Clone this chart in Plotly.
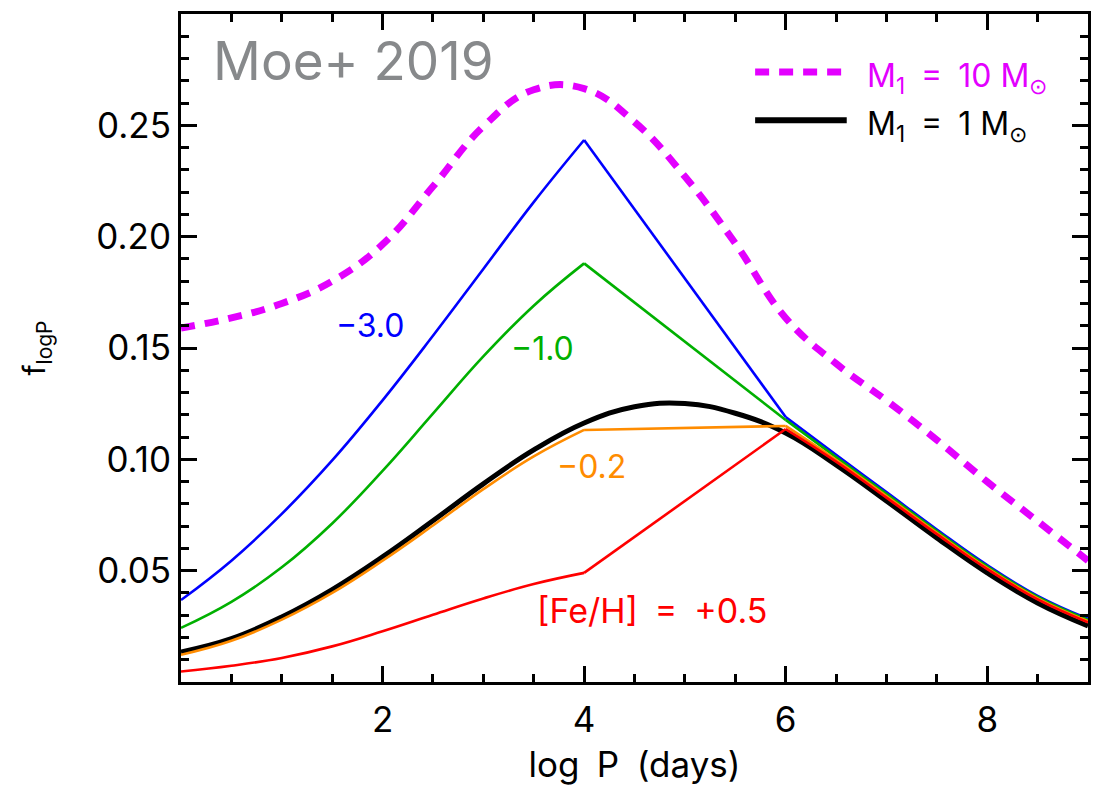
import plotly.graph_objects as go

# log P grid (days) shared by every curve
log_p = [0.0, 0.5, 1.0, 1.5, 2.0, 2.5, 3.0, 3.5, 4.0, 4.5, 5.0, 5.5, 6.0, 6.5, 7.0, 7.5, 8.0, 8.5, 9.0]

# M1 = 10 Msun
f_m10 = [0.159, 0.1635, 0.1700, 0.1800, 0.1965, 0.2225, 0.2495, 0.2660, 0.2665, 0.2515,
         0.2270, 0.1970, 0.1635, 0.1430, 0.1264, 0.1087, 0.0899, 0.0722, 0.0545]

# M1 = 1 Msun, solar metallicity
f_m1 = [0.0135, 0.0195, 0.0292, 0.0415, 0.0562, 0.0724, 0.0890, 0.1042, 0.1163, 0.1236,
        0.1251, 0.1207, 0.1118, 0.0975, 0.0813, 0.0647, 0.0490, 0.0355, 0.0252]

# M1 = 1 Msun at different [Fe/H]
f_feh_m30 = [0.0368, 0.0545, 0.0755, 0.0995, 0.1265, 0.1555, 0.1855, 0.2155, 0.2434, 0.2123,
             0.1812, 0.1501, 0.1190, 0.1020, 0.0853, 0.0685, 0.0525, 0.0387, 0.0284]
f_feh_m10 = [0.0243, 0.0360, 0.0515, 0.0712, 0.0948, 0.1205, 0.1462, 0.1690, 0.1880, 0.1704,
             0.1529, 0.1353, 0.1177, 0.1010, 0.0845, 0.0678, 0.0519, 0.0382, 0.0279]
f_feh_m02 = [0.0122, 0.0185, 0.0280, 0.0400, 0.0545, 0.0703, 0.0866, 0.1013, 0.1132, 0.1137,
             0.1141, 0.1146, 0.1150, 0.0998, 0.0835, 0.0670, 0.0512, 0.0376, 0.0273]
f_feh_p05 = [0.0047, 0.0073, 0.0108, 0.0160, 0.0228, 0.0302, 0.0375, 0.0440, 0.0490, 0.0652,
             0.0813, 0.0975, 0.1136, 0.0990, 0.0828, 0.0664, 0.0507, 0.0371, 0.0268]

feh_labels = ["\u22123.0", "\u22121.0", "\u22120.2", "[Fe/H]\u2002=\u2002+0.5"]
feh_series = [f_feh_m30, f_feh_m10, f_feh_m02, f_feh_p05]
feh_colors = ["#0000ff", "#00b000", "#ff8c00", "#ff0000"]

x_ticks = [2, 4, 6, 8]
y_ticks = [0.05, 0.10, 0.15, 0.20, 0.25]
y_ticktext = ["0.05", "0.10", "0.15", "0.20", "0.25"]

FONT = "Inter"
SMOOTH = 1.2

fig = go.Figure()

fig.add_trace(go.Scatter(x=log_p, y=f_m1, mode="lines",
                         line=dict(color="black", width=5, shape="spline", smoothing=SMOOTH),
                         hoverinfo="skip"))

# each metallicity curve: smooth below log P = 4, straight 4-6, smooth tail beyond 6
i4 = log_p.index(4.0)
i6 = log_p.index(6.0)
for ys, col in zip(feh_series, feh_colors):
    for a, b, shp in [(0, i4 + 1, "spline"), (i4, i6 + 1, "linear"), (i6, len(log_p), "spline")]:
        fig.add_trace(go.Scatter(x=log_p[a:b], y=ys[a:b], mode="lines",
                                 line=dict(color=col, width=2.6, shape=shp, smoothing=SMOOTH),
                                 hoverinfo="skip"))

fig.add_trace(go.Scatter(x=log_p, y=f_m10, mode="lines",
                         line=dict(color="#e300ff", width=7, dash="14px,10px",
                                   shape="spline", smoothing=SMOOTH),
                         hoverinfo="skip"))

axis_common = dict(
    ticks="inside", ticklen=16, tickwidth=2.5, tickcolor="black",
    showline=True, linewidth=3, linecolor="black", mirror="allticks",
    showgrid=False, zeroline=False,
    tickfont=dict(family=FONT, size=35, color="black"),
)

fig.update_xaxes(range=[0, 9], tickvals=x_ticks, ticklabelstandoff=5,
                 minor=dict(dtick=0.5, tick0=0, ticks="inside", ticklen=8, tickwidth=2.5,
                            tickcolor="black", showgrid=False),
                 title=dict(text="log\u2002P\u2002(days)",
                            font=dict(family=FONT, size=35, color="black"), standoff=14),
                 **axis_common)
fig.update_yaxes(range=[0, 0.3], tickvals=y_ticks, ticktext=y_ticktext,
                 minor=dict(dtick=0.01, tick0=0, ticks="inside", ticklen=8, tickwidth=2.5,
                            tickcolor="black", showgrid=False),
                 title=dict(text="f<sub>logP</sub>", font=dict(family=FONT, size=30, color="black"),
                            standoff=42),
                 **axis_common)

annotations = [
    dict(text="Moe+ 2019", xref="paper", yref="paper", x=0.033, y=0.93,
         xanchor="left", yanchor="middle", showarrow=False,
         font=dict(family=FONT, size=53, color="#87898b")),
    dict(text="M<sub>1</sub>\u2002=\u200210 M<sub>\u2299</sub>", xref="paper", yref="paper",
         x=0.754, y=0.905, xanchor="left", yanchor="middle", showarrow=False,
         font=dict(family=FONT, size=32, color="#e300ff")),
    dict(text="M<sub>1</sub>\u2002=\u20021 M<sub>\u2299</sub>", xref="paper", yref="paper",
         x=0.754, y=0.833, xanchor="left", yanchor="middle", showarrow=False,
         font=dict(family=FONT, size=32, color="black")),
]
label_pos = [(1.875, 0.160), (3.59, 0.150), (4.07, 0.097), (4.67, 0.0323)]
label_size = [32, 32, 32, 34]
for txt, col, (lx, ly), sz in zip(feh_labels, feh_colors, label_pos, label_size):
    annotations.append(dict(text=txt, x=lx, y=ly, xref="x", yref="y", showarrow=False,
                            xanchor="center", yanchor="middle",
                            font=dict(family=FONT, size=sz, color=col)))

shapes = [
    dict(type="line", xref="paper", yref="paper", x0=0.633, x1=0.734, y0=0.913, y1=0.913,
         line=dict(color="#e300ff", width=7, dash="14px,10px")),
    dict(type="line", xref="paper", yref="paper", x0=0.633, x1=0.734, y0=0.841, y1=0.841,
         line=dict(color="black", width=6)),
]

fig.update_layout(width=1107, height=793,
                  margin=dict(l=181, r=19, t=14, b=111),
                  paper_bgcolor="white", plot_bgcolor="white",
                  showlegend=False, annotations=annotations, shapes=shapes)

fig.write_html("out.html")
